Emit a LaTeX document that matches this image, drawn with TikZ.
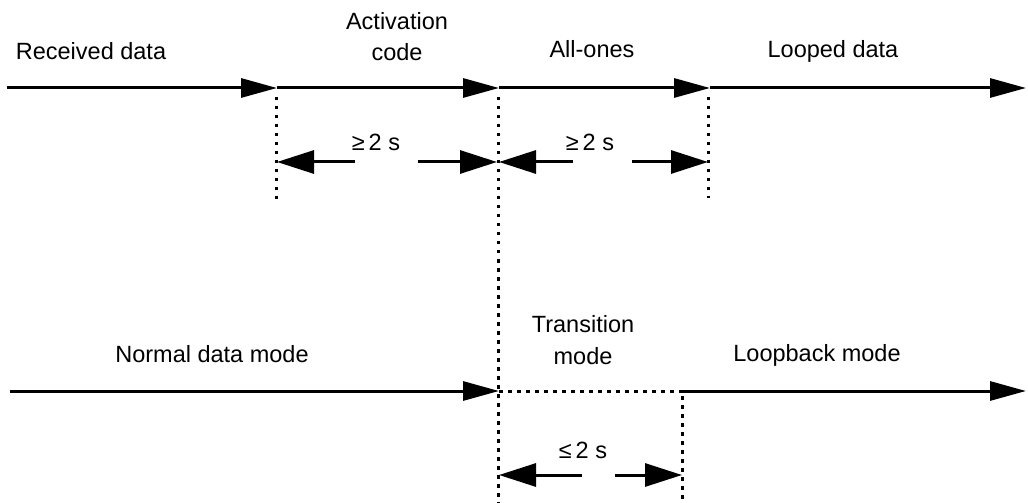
\documentclass[tikz,border=0pt]{standalone}
\usepackage{fontspec}
\setmainfont{Liberation Sans}
\usetikzlibrary{arrows.meta}
\begin{document}
\begin{tikzpicture}[x=1bp,y=-1bp,
  lbl/.style={font=\fontsize{23.5bp}{28bp}\selectfont, anchor=base, inner sep=0pt},
  flow/.style={line width=3bp, -{Triangle[length=36bp,width=19bp]}},
  dim/.style={line width=3bp, -{Triangle[length=37bp,width=23bp]}},
  guide/.style={line width=3bp, dash pattern=on 3.5bp off 5.5bp},
]
\useasboundingbox (0,0) rectangle (1028,503);

% received-data timeline
\coordinate (t0) at (7,88);
\coordinate (t1) at (277,88);
\coordinate (t2) at (499,88);
\coordinate (t3) at (710,88);
\coordinate (t4) at (1026,88);
\draw[flow] (t0) -- (t1);
\draw[flow] (t1) -- (t2);
\draw[flow] (t2) -- (t3);
\draw[flow] (t3) -- (t4);

% mode timeline
\coordinate (b0) at (10,391);
\coordinate (b1) at (499,391);
\coordinate (b2) at (682,391);
\coordinate (b3) at (1026,391);
\draw[flow] (b0) -- (b1);
\draw[guide] (b1) -- (b2);
\draw[flow] (b2) -- (b3);

% vertical guide lines
\coordinate (g1a) at (276,97);  \coordinate (g1b) at (276,200);
\coordinate (g2a) at (498,97);  \coordinate (g2b) at (498,503);
\coordinate (g3a) at (708,97);  \coordinate (g3b) at (708,198);
\coordinate (g4a) at (682,396); \coordinate (g4b) at (682,503);
\draw[guide] (g1a) -- (g1b);
\draw[guide] (g2a) -- (g2b);
\draw[guide] (g3a) -- (g3b);
\draw[guide] (g4a) -- (g4b);

% duration markers
\coordinate (d1a) at (355,162); \coordinate (d1b) at (277,162);
\coordinate (d1c) at (418,162); \coordinate (d1d) at (497,162);
\coordinate (d2a) at (573,162); \coordinate (d2b) at (499,162);
\coordinate (d2c) at (632,162); \coordinate (d2d) at (708,162);
\coordinate (d3a) at (582,475); \coordinate (d3b) at (499,475);
\coordinate (d3c) at (615,475); \coordinate (d3d) at (682,475);
\draw[dim] (d1a) -- (d1b);
\draw[dim] (d1c) -- (d1d);
\draw[dim] (d2a) -- (d2b);
\draw[dim] (d2c) -- (d2d);
\draw[dim] (d3a) -- (d3b);
\draw[dim] (d3c) -- (d3d);

% labels
\node[lbl] (rx)   at (91,60)   {Received data};
\node[lbl] (act1) at (397,30)  {Activation};
\node[lbl] (act2) at (397,61)  {code};
\node[lbl] (ones) at (592,58)  {All-ones};
\node[lbl] (loop) at (833,58)  {Looped data};
\node[lbl] (dur1) at (376,151) {≥\,2 s};
\node[lbl] (dur2) at (590,151) {≥\,2 s};
\node[lbl] (norm) at (212,363) {Normal data mode};
\node[lbl] (tr1)  at (583,333) {Transition};
\node[lbl] (tr2)  at (583,365) {mode};
\node[lbl] (lbm)  at (817,362) {Loopback mode};
\node[lbl] (dur3) at (583,458) {≤\,2 s};
\end{tikzpicture}
\end{document}
